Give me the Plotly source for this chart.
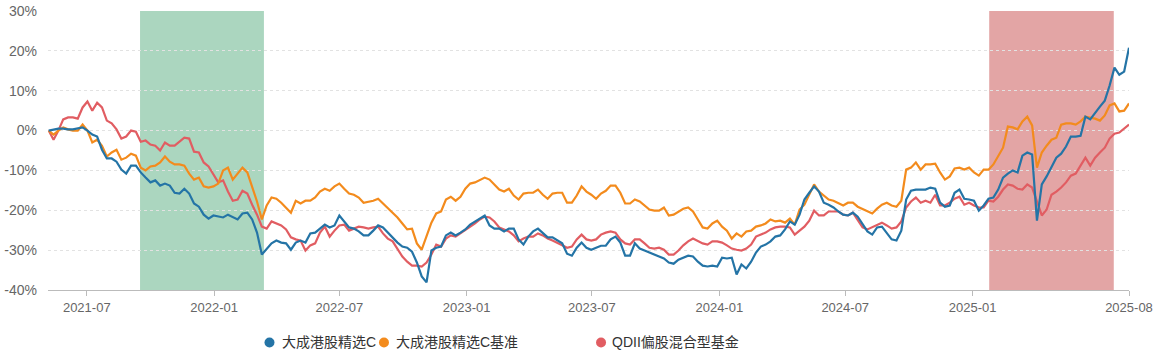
import pandas as pd
import plotly.graph_objects as go

# weekly observations, cumulative return (%)
start_date = "2021-05-07"

fund = [
    0.0, 0.3, 0.5, 0.5, 0.3, 0.3, 0.5, 0.8, 0.0, -1.0,
    -1.5, -4.8, -7.0, -7.0, -7.8, -9.8, -10.8, -8.8, -8.8, -10.5,
    -11.8, -13.0, -12.5, -13.8, -13.3, -13.8, -15.6, -15.8, -14.6, -15.8,
    -18.3, -19.1, -21.1, -22.1, -21.3, -21.6, -21.8, -21.1, -21.8, -22.3,
    -20.8, -20.6, -22.3, -25.6, -31.1, -29.6, -28.3, -27.6, -28.1, -28.3,
    -29.9, -28.1, -27.6, -28.1, -25.8, -25.6, -24.6, -23.6, -24.3, -23.8,
    -21.3, -22.8, -24.3, -24.6, -25.3, -26.3, -26.3, -25.1, -23.8, -24.3,
    -25.6, -26.8, -28.1, -29.1, -29.4, -30.4, -33.1, -36.6, -38.1, -30.1,
    -29.4, -29.1, -26.3, -25.6, -26.3, -25.6, -24.8, -23.6, -22.8, -22.1,
    -21.3, -23.8, -24.6, -24.6, -25.3, -24.6, -24.6, -27.3, -28.6, -26.6,
    -25.3, -24.6, -25.8, -26.8, -26.8, -27.6, -28.3, -30.9, -31.4, -29.4,
    -28.1, -29.4, -29.9, -29.4, -28.9, -28.9, -27.3, -26.6, -28.1, -31.4,
    -31.4, -28.3, -29.6, -30.1, -30.6, -30.9, -31.4, -32.1, -33.1, -33.4,
    -32.4, -31.9, -31.4, -31.6, -32.9, -33.9, -34.1, -33.9, -34.1, -31.9,
    -32.1, -31.9, -36.1, -33.6, -34.6, -32.9, -30.6, -29.1, -28.6, -27.8,
    -26.6, -26.3, -24.8, -22.8, -23.6, -21.1, -17.3, -15.6, -14.0, -15.3,
    -18.1, -18.6, -19.3, -20.3, -21.1, -21.3, -20.6, -21.6, -23.6, -25.3,
    -26.1, -24.3, -24.1, -25.6, -27.3, -27.6, -25.1, -17.3, -15.1, -14.8,
    -14.8, -14.8, -14.3, -14.6, -18.1, -19.1, -18.8, -15.6, -14.8, -17.1,
    -17.3, -17.6, -20.1, -18.8, -17.1, -16.8, -14.8, -11.8, -10.8, -10.0,
    -10.5, -6.3, -5.5, -6.0, -22.6, -13.5, -11.5, -9.3, -6.8, -5.8,
    -4.0, -1.5, -1.5, -1.3, 3.5, 2.8, 4.5, 6.0, 7.5, 11.3,
    15.8, 14.0, 14.8, 20.8,
]

bench = [
    0.0, -1.0, 0.0, 0.8, 0.3, 0.0, 0.0, 1.5, 0.0, -3.0,
    -2.3, -3.8, -6.5, -5.5, -4.8, -7.3, -6.8, -5.8, -6.3, -9.3,
    -10.0, -9.0, -8.8, -8.0, -6.5, -7.8, -8.5, -8.5, -8.8, -10.8,
    -12.3, -11.8, -14.0, -14.3, -14.0, -13.3, -10.0, -9.3, -12.3, -10.8,
    -9.3, -10.5, -14.3, -17.8, -22.3, -18.8, -16.8, -17.1, -18.1, -19.3,
    -20.6, -17.6, -18.3, -17.6, -17.6, -16.8, -15.3, -14.6, -15.1, -14.0,
    -13.3, -14.6, -15.8, -16.1, -16.8, -18.1, -17.8, -17.6, -17.1, -18.3,
    -19.6, -20.6, -21.8, -23.3, -24.8, -24.6, -28.3, -29.9, -26.6, -23.1,
    -20.8, -20.3, -17.3, -16.6, -17.6, -16.6, -14.6, -13.3, -13.0, -12.5,
    -11.8, -12.3, -13.5, -14.8, -15.3, -14.6, -16.3, -17.3, -15.8, -15.6,
    -15.6, -14.8, -16.1, -17.1, -15.8, -15.6, -15.6, -18.1, -18.1, -16.3,
    -14.0, -15.3, -16.1, -17.1, -15.8, -15.1, -13.8, -13.8, -15.6, -18.3,
    -18.3, -17.3, -17.8, -18.8, -19.8, -20.1, -20.1, -19.3, -21.3, -21.1,
    -20.3, -19.6, -19.3, -20.3, -22.3, -24.3, -24.6, -23.3, -22.6, -24.1,
    -25.1, -27.1, -25.8, -26.6, -25.3, -25.1, -24.1, -23.8, -23.3, -22.3,
    -22.8, -22.6, -23.1, -22.1, -23.6, -19.8, -18.6, -16.1, -13.5, -15.3,
    -16.3, -17.3, -17.6, -18.1, -18.8, -18.1, -18.1, -19.1, -19.6, -20.3,
    -20.8, -19.6, -18.6, -18.1, -18.8, -19.1, -17.6, -9.8, -9.3, -8.0,
    -9.8, -8.5, -8.5, -8.3, -10.5, -12.3, -11.5, -9.5, -9.3, -9.8,
    -9.3, -10.5, -11.3, -9.8, -9.8, -8.5, -6.5, -4.3, 1.0, 0.8,
    0.3, 2.3, 3.5, 1.3, -9.3, -5.5, -3.8, -2.3, -1.8, 1.5,
    1.8, 1.8, 1.5, 2.3, 3.5, 3.3, 3.0, 2.5, 3.8, 6.3,
    6.8, 4.8, 5.0, 6.8,
]

peer = [
    0.0, -2.3, 0.0, 2.8, 3.3, 3.3, 3.0, 5.8, 7.3, 5.0,
    7.0, 5.8, 2.5, 1.8, 0.3, -2.0, -1.5, 0.0, -0.3, -2.8,
    -2.5, -3.5, -3.8, -5.0, -3.0, -3.8, -3.8, -2.8, -1.8, -2.0,
    -5.3, -5.5, -8.0, -9.0, -11.0, -13.0, -12.5, -15.3, -17.6, -17.3,
    -15.1, -15.8, -18.6, -21.1, -24.1, -24.6, -22.8, -23.3, -23.8, -24.8,
    -26.8, -27.3, -27.6, -30.1, -28.8, -28.3, -25.6, -24.1, -26.6, -25.1,
    -23.8, -23.6, -25.1, -24.6, -24.1, -24.3, -24.6, -24.3, -24.1, -25.8,
    -27.1, -27.8, -29.6, -31.6, -32.9, -33.9, -33.9, -34.1, -33.1, -31.1,
    -28.6, -29.1, -27.1, -26.3, -26.6, -25.8, -25.1, -24.3, -23.3, -22.3,
    -21.6, -21.8, -22.8, -24.3, -24.8, -25.3, -26.3, -27.8, -27.1, -26.6,
    -26.6, -25.8, -26.3, -27.1, -27.6, -28.3, -28.8, -29.4, -29.1, -27.3,
    -26.1, -27.3, -27.6, -27.3, -26.1, -25.6, -25.3, -25.6, -27.3, -28.3,
    -28.6, -27.3, -27.3, -28.3, -29.4, -29.6, -29.4, -29.9, -31.1, -31.1,
    -30.1, -28.8, -27.8, -27.1, -27.8, -28.3, -28.6, -27.8, -27.8, -28.1,
    -28.8, -29.6, -29.9, -30.1, -29.6, -28.6, -26.6, -26.1, -25.6, -24.8,
    -24.3, -24.1, -24.1, -24.3, -26.1, -25.1, -24.1, -22.6, -20.1, -21.3,
    -21.3, -20.3, -20.3, -20.3, -21.1, -21.3, -20.6, -22.6, -24.3, -24.8,
    -24.3, -23.6, -23.1, -23.8, -24.6, -24.3, -22.8, -19.3, -17.8, -16.8,
    -18.1, -17.6, -18.1, -16.1, -18.8, -18.8, -18.1, -17.1, -16.6, -18.6,
    -18.1, -18.8, -19.3, -19.3, -17.6, -17.8, -16.6, -14.8, -13.5, -13.8,
    -14.6, -14.8, -13.5, -14.3, -17.8, -21.3, -19.8, -16.1, -15.3, -14.3,
    -13.0, -11.3, -10.8, -8.8, -6.8, -8.8, -6.8, -5.5, -4.3, -2.0,
    -0.8, -0.5, 0.5, 1.5,
]

series_names = ["大成港股精选C", "大成港股精选C基准", "QDII偏股混合型基金"]
series_colors = ["#2474a6", "#f38b1d", "#e15d62"]

tick_dates = ["2021-07-01", "2022-01-01", "2022-07-01", "2023-01-01", "2023-07-01",
              "2024-01-01", "2024-07-01", "2025-01-01", "2025-08-15"]
tick_labels = ["2021-07", "2022-01", "2022-07", "2023-01", "2023-07",
               "2024-01", "2024-07", "2025-01", "2025-08"]

y_ticks = [-40, -30, -20, -10, 0, 10, 20, 30]
y_labels = ["-40%", "-30%", "-20%", "-10%", "0%", "10%", "20%", "30%"]

bands = [("2021-09-16", "2022-03-14", "#abd6bf"),
         ("2025-01-25", "2025-07-24", "#e3a5a5")]

dates = pd.date_range(start_date, periods=len(fund), freq="7D")

fig = go.Figure()
values = [fund, bench, peer]
# draw red, orange, then blue on top
for idx in [2, 1, 0]:
    fig.add_trace(go.Scatter(
        x=dates, y=values[idx], mode="lines",
        line=dict(color=series_colors[idx], width=2.2),
        name=series_names[idx], showlegend=False, hoverinfo="skip",
    ))

for x0, x1, col in bands:
    fig.add_shape(type="rect", xref="x", yref="paper", x0=x0, x1=x1, y0=0, y1=1,
                  fillcolor=col, line=dict(width=0), layer="between")

# legend row below the plot (dot + label per series), positions in paper units
legend_dot_x = [0.2049, 0.3108, 0.5116]
legend_text_x = [0.2146, 0.3201, 0.5199]
legend_y = -0.188
for idx in range(3):
    fig.add_shape(type="circle", xref="paper", yref="paper",
                  xsizemode="pixel", ysizemode="pixel",
                  xanchor=legend_dot_x[idx], yanchor=legend_y,
                  x0=-5, x1=5, y0=-5, y1=5,
                  fillcolor=series_colors[idx], line=dict(width=0))
    fig.add_annotation(x=legend_text_x[idx], y=legend_y, xref="paper", yref="paper",
                       text=series_names[idx], showarrow=False,
                       xanchor="left", yanchor="middle",
                       font=dict(size=14, color="#333333"))

font_family = "Liberation Sans, Noto Sans CJK SC, sans-serif"

fig.update_layout(
    width=1165, height=357,
    margin=dict(l=48, r=36, t=11, b=67, autoexpand=False),
    plot_bgcolor="white", paper_bgcolor="white",
    font=dict(family=font_family, size=13, color="#666666"),
    showlegend=False,
    xaxis=dict(
        type="date", range=["2021-05-06", "2025-08-15"], automargin=False,
        showgrid=False, showline=True, linecolor="#bbbbbb", linewidth=1,
        ticks="outside", ticklen=5, tickcolor="#bbbbbb",
        tickvals=tick_dates, ticktext=tick_labels,
        tickfont=dict(size=13, color="#666666"), zeroline=False,
    ),
    yaxis=dict(
        range=[-40, 30], tickvals=y_ticks, ticktext=y_labels, automargin=False,
        showgrid=True, gridcolor="#e2e2e2", griddash="dot", gridwidth=1,
        zeroline=False, showline=False, ticks="", ticklabelstandoff=10,
        tickfont=dict(size=14, color="#666666"),
    ),
)

fig.write_html("out.html", config={"displayModeBar": False},
               post_script="document.body.style.margin='0';")
